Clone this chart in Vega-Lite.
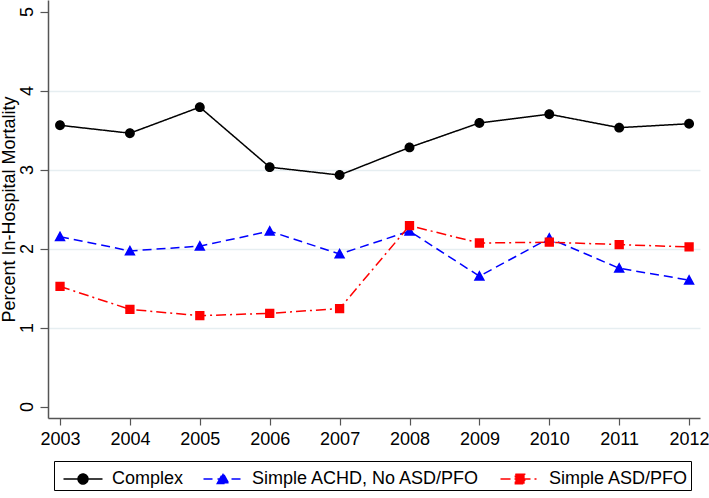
{
  "$schema": "https://vega.github.io/schema/vega-lite/v6.json",
  "width": 652,
  "height": 418,
  "autosize": "none",
  "padding": {"left": 48, "top": 0, "right": 9, "bottom": 80},
  "background": "white",
  "config": {
    "view": {"stroke": null},
    "font": "Liberation Sans",
    "axis": {
      "labelFont": "Liberation Sans",
      "labelFontSize": 18,
      "labelColor": "#000",
      "titleFont": "Liberation Sans",
      "titleFontSize": 18,
      "titleFontWeight": "normal",
      "titleColor": "#000",
      "domainColor": "#555",
      "domainWidth": 1.5,
      "tickColor": "#555",
      "tickWidth": 1.2
    }
  },
  "data": {
    "values": [
      {"year": 2003, "series": "Complex", "value": 3.56},
      {"year": 2004, "series": "Complex", "value": 3.46},
      {"year": 2005, "series": "Complex", "value": 3.79},
      {"year": 2006, "series": "Complex", "value": 3.03},
      {"year": 2007, "series": "Complex", "value": 2.93},
      {"year": 2008, "series": "Complex", "value": 3.28},
      {"year": 2009, "series": "Complex", "value": 3.59},
      {"year": 2010, "series": "Complex", "value": 3.70},
      {"year": 2011, "series": "Complex", "value": 3.53},
      {"year": 2012, "series": "Complex", "value": 3.58},
      {"year": 2003, "series": "Simple ACHD, No ASD/PFO", "value": 2.15},
      {"year": 2004, "series": "Simple ACHD, No ASD/PFO", "value": 1.97},
      {"year": 2005, "series": "Simple ACHD, No ASD/PFO", "value": 2.03},
      {"year": 2006, "series": "Simple ACHD, No ASD/PFO", "value": 2.22},
      {"year": 2007, "series": "Simple ACHD, No ASD/PFO", "value": 1.93},
      {"year": 2008, "series": "Simple ACHD, No ASD/PFO", "value": 2.22},
      {"year": 2009, "series": "Simple ACHD, No ASD/PFO", "value": 1.65},
      {"year": 2010, "series": "Simple ACHD, No ASD/PFO", "value": 2.13},
      {"year": 2011, "series": "Simple ACHD, No ASD/PFO", "value": 1.75},
      {"year": 2012, "series": "Simple ACHD, No ASD/PFO", "value": 1.60},
      {"year": 2003, "series": "Simple ASD/PFO", "value": 1.52},
      {"year": 2004, "series": "Simple ASD/PFO", "value": 1.23},
      {"year": 2005, "series": "Simple ASD/PFO", "value": 1.15},
      {"year": 2006, "series": "Simple ASD/PFO", "value": 1.18},
      {"year": 2007, "series": "Simple ASD/PFO", "value": 1.24},
      {"year": 2008, "series": "Simple ASD/PFO", "value": 2.29},
      {"year": 2009, "series": "Simple ASD/PFO", "value": 2.07},
      {"year": 2010, "series": "Simple ASD/PFO", "value": 2.08},
      {"year": 2011, "series": "Simple ASD/PFO", "value": 2.05},
      {"year": 2012, "series": "Simple ASD/PFO", "value": 2.02}
    ]
  },
  "encoding": {
    "x": {
      "field": "year",
      "type": "quantitative",
      "scale": {"domain": [2002.828, 2012.156], "nice": false, "zero": false},
      "axis": {
        "values": [2003, 2004, 2005, 2006, 2007, 2008, 2009, 2010, 2011, 2012],
        "format": "d",
        "title": null,
        "grid": false,
        "tickSize": 7,
        "labelPadding": 5,
        "labelFlush": false,
        "labelOverlap": false
      }
    },
    "y": {
      "field": "value",
      "type": "quantitative",
      "scale": {"domain": [-0.145, 5.146], "nice": false, "zero": false},
      "axis": {
        "values": [0, 1, 2, 3, 4, 5],
        "title": "Percent In-Hospital Mortality",
        "titleAngle": -90,
        "titleX": -34,
        "titleY": 209,
        "titleAlign": "center",
        "titleBaseline": "alphabetic",
        "labelAngle": -90,
        "labelAlign": "center",
        "labelBaseline": "alphabetic",
        "labelPadding": 8,
        "tickSize": 8,
        "grid": true,
        "gridColor": {"condition": {"test": "datum.value === 0 || datum.value === 5", "value": "transparent"}, "value": "#e6eef1"},
        "gridWidth": 1.5
      }
    },
    "color": {
      "field": "series",
      "type": "nominal",
      "scale": {
        "domain": ["Complex", "Simple ACHD, No ASD/PFO", "Simple ASD/PFO"],
        "range": ["#000000", "#0000ff", "#ff0000"]
      },
      "legend": {
        "orient": "none",
        "legendX": 6,
        "legendY": 461,
        "direction": "horizontal",
        "title": null,
        "strokeColor": "#000",
        "fillColor": "#fff",
        "padding": 2,
        "symbolSize": 900,
        "symbolOffset": 11,
        "labelOffset": 13,
        "labelLimit": 400,
        "columnPadding": 12,
        "labelFont": "Liberation Sans",
        "labelFontSize": 18,
        "labelColor": "#000",
        "symbolStrokeWidth": 1.5,
        "symbolOpacity": 1
      }
    }
  },
  "layer": [
    {
      "mark": {"type": "line", "strokeWidth": 1.5},
      "encoding": {
        "strokeDash": {
          "field": "series",
          "type": "nominal",
          "scale": {
            "domain": ["Complex", "Simple ACHD, No ASD/PFO", "Simple ASD/PFO"],
            "range": [[1, 0], [9, 5], [10, 4, 2, 4]]
          },
          "legend": null
        }
      }
    },
    {
      "mark": {"type": "point", "filled": true, "opacity": 1, "size": 900},
      "encoding": {
        "shape": {
          "field": "series",
          "type": "nominal",
          "scale": {
            "domain": ["Complex", "Simple ACHD, No ASD/PFO", "Simple ASD/PFO"],
            "range": [
              "M-1.3,0H1.3M-0.33,0A0.33,0.33,0,1,0,0.33,0A0.33,0.33,0,1,0,-0.33,0Z",
              "M-1.3,0H1.3M-0.38,0.3L0,-0.4L0.38,0.3Z",
              "M-1.3,0H1.3M-0.31,-0.31H0.31V0.31H-0.31Z"
            ]
          },
          "legend": null
        }
      }
    }
  ]
}
